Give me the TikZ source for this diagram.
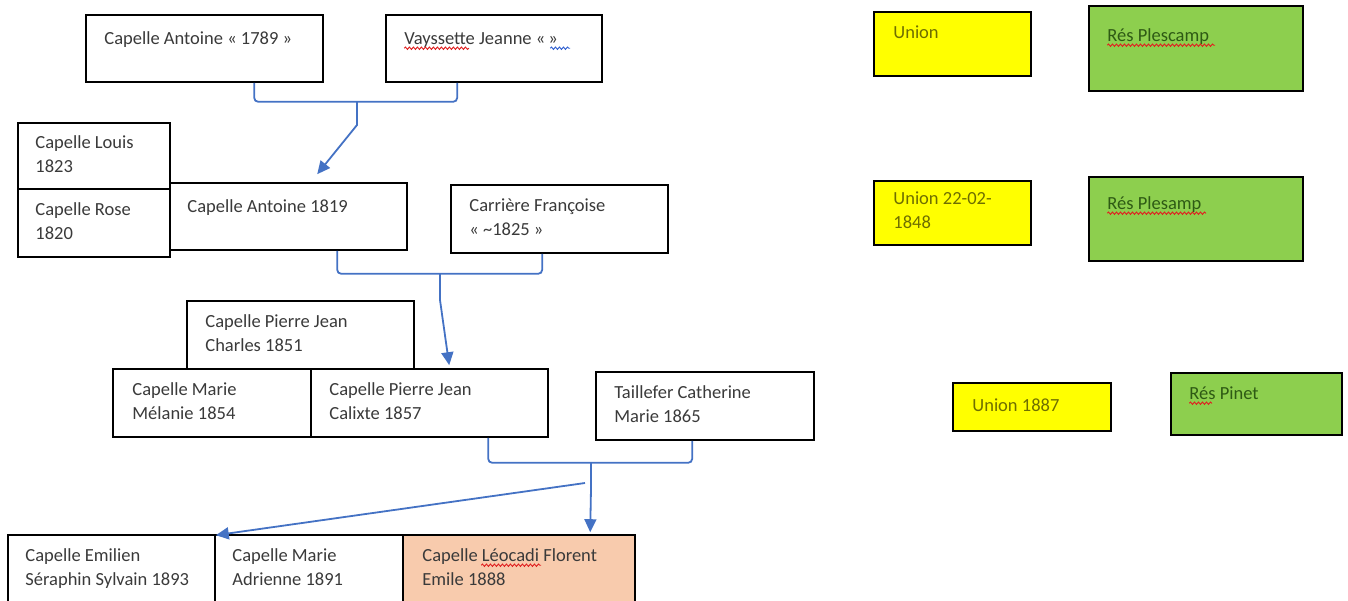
\documentclass[tikz,border=0pt]{standalone}
\usepackage{fontspec}
\setmainfont{Carlito}
\usetikzlibrary{arrows.meta,decorations.pathmorphing,calc}
\definecolor{connblue}{HTML}{4472C4}
\definecolor{txtgray}{HTML}{3A3A3A}
\definecolor{uyellow}{HTML}{FFFF00}
\definecolor{rgreen}{HTML}{8DCF4E}
\definecolor{peach}{HTML}{F8CBAD}
\definecolor{olivetxt}{HTML}{6E6E00}
\definecolor{greentxt}{HTML}{2E5A14}
\definecolor{squigred}{HTML}{E02020}
\definecolor{squigblue}{HTML}{3060D0}
\tikzset{
  box/.style={draw=black, line width=1.6pt, inner sep=0pt, fill=white},
  yellowbox/.style={box, fill=uyellow},
  greenbox/.style={box, fill=rgreen},
  peachbox/.style={box, fill=peach},
  txt/.style={inner sep=0pt, text=txtgray, font=\fontsize{18.5}{24}\selectfont},
  ytxt/.style={txt, text=olivetxt},
  gtxt/.style={txt, text=greentxt},
  conn/.style={draw=connblue, line width=1.8pt},
  arr/.style={conn, -{Triangle[length=13pt,width=12pt]}},
  squig/.style={draw=squigred, line width=0.9pt, decorate,
    decoration={snake, amplitude=1.2pt, segment length=4pt}},
  squigb/.style={squig, draw=squigblue},
}
\newcommand\bx[6][]{\node[box,#1,minimum width={#5-#3},minimum height={#6-#4}] (#2) at ({(#3+#5)/2},{(#4+#6)/2}) {};}
\newcommand\tx[4][]{\node[txt,#1,anchor=base west] (#2) at (#3) {\begin{tabular}[t]{@{}l@{}}#4\end{tabular}};}
\begin{document}
\begin{tikzpicture}[x=1pt,y=-1pt]
\useasboundingbox (0,0) rectangle (1348,600);
% generation 1
\bx{a1}{86}{15}{323}{82}
\tx{a1t}{[shift={(19,30)}]a1.north west}{Capelle Antoine « 1789 »}
\bx{a2}{386}{15}{602}{82}
\tx{a2t}{[shift={(19,30)}]a2.north west}{Vayssette Jeanne «\,»}
% generation 2
\bx{l1}{18}{123}{170}{189}
\tx{l1t}{[shift={(18,26)}]l1.north west}{Capelle Louis\\1823}
\bx{r1}{18}{189}{170}{257}
\tx{r1t}{[shift={(18,27)}]r1.north west}{Capelle Rose\\1820}
\bx{b1}{170}{183}{407}{250}
\tx{b1t}{[shift={(18,30)}]b1.north west}{Capelle Antoine 1819}
\bx{b2}{451}{185}{668}{253}
\tx{b2t}{[shift={(19,27)}]b2.north west}{Carrière Françoise\\« \textasciitilde1825 »}
% generation 3
\bx{c0}{187}{301}{414}{369}
\tx{c0t}{[shift={(19,27)}]c0.north west}{Capelle Pierre Jean\\Charles 1851}
\bx{c1}{113}{369}{311}{437}
\tx{c1t}{[shift={(20,27)}]c1.north west}{Capelle Marie\\Mélanie 1854}
\bx{c2}{311}{369}{548}{437}
\tx{c2t}{[shift={(19,27)}]c2.north west}{Capelle Pierre Jean\\Calixte 1857}
\bx{c3}{596}{372}{814}{440}
\tx{c3t}{[shift={(19,27)}]c3.north west}{Taillefer Catherine\\Marie 1865}
% generation 4
\bx{d1}{8}{535}{215}{603}
\tx{d1t}{[shift={(18,27)}]d1.north west}{Capelle Emilien\\Séraphin Sylvain 1893}
\bx{d2}{215}{535}{403}{603}
\tx{d2t}{[shift={(18,27)}]d2.north west}{Capelle Marie\\Adrienne 1891}
\bx[peachbox]{d3}{403}{535}{635}{603}
\tx{d3t}{[shift={(20,27)}]d3.north west}{Capelle Léocadi Florent\\Emile 1888}
% legend boxes
\bx[yellowbox]{u1}{874}{12}{1031}{76}
\tx[ytxt]{u1t}{[shift={(20,27)}]u1.north west}{Union}
\bx[greenbox]{g1}{1089}{6}{1303}{91}
\tx[gtxt]{g1t}{[shift={(19,36)}]g1.north west}{Rés Plescamp}
\bx[yellowbox]{u2}{874}{181}{1031}{245}
\tx[ytxt]{u2t}{[shift={(20,24)}]u2.north west}{Union 22-02-\\1848}
\bx[greenbox]{g2}{1089}{177}{1303}{261}
\tx[gtxt]{g2t}{[shift={(19,33)}]g2.north west}{Rés Plesamp}
\bx[yellowbox]{u3}{953}{383}{1111}{431}
\tx[ytxt]{u3t}{[shift={(20,29)}]u3.north west}{Union 1887}
\bx[greenbox]{g3}{1171}{373}{1342}{435}
\tx[gtxt]{g3t}{[shift={(19,27)}]g3.north west}{Rés Pinet}
% spell-check squiggles
\draw[squig] ([shift={(0,4)}]a2t.base west) -- ++(65,0);
\draw[squigb] ([shift={(146,4)}]a2t.base west) -- ++(20,0);
\draw[squig] ([shift={(59,4)}]d3t.base west) -- ++(60,0);
\draw[squig] ([shift={(0,4)}]g1t.base west) -- ++(108,0);
\draw[squig] ([shift={(0,4)}]g2t.base west) -- ++(99,0);
\draw[squig] ([shift={(0,4)}]g3t.base west) -- ++(23,0);
% connectors: generation 1 -> 2
\draw[conn, rounded corners=4pt] ([xshift=169pt]a1.south west) -- ++(0,19) -| ([xshift=72pt]a2.south west);
\coordinate (j1) at (357,101);
\draw[arr] (j1) -- ++(0,24) -- ([shift={(148,-8)}]b1.north west);
% generation 2 -> 3
\draw[conn, rounded corners=4pt] ([xshift=168pt]b1.south west) -- ++(0,23) -| ([xshift=92pt]b2.south west);
\coordinate (j2) at (440,273);
\draw[arr] (j2) -- ++(0,27) -- ([shift={(139,-3)}]c2.north west);
% generation 3 -> 4
\draw[conn, rounded corners=4pt] ([xshift=178pt]c2.south west) -- ++(0,25) -| ([xshift=97pt]c3.south west);
\coordinate (j3) at (591,462);
\draw[conn] (j3) -- ++(0,26) coordinate (k3);
\draw[arr] (k3) -- ([shift={(188,-2)}]d3.north west);
\draw[arr] ([shift={(-6,-5)}]k3) -- ([yshift=-1pt]d1.north east);
\end{tikzpicture}
\end{document}
